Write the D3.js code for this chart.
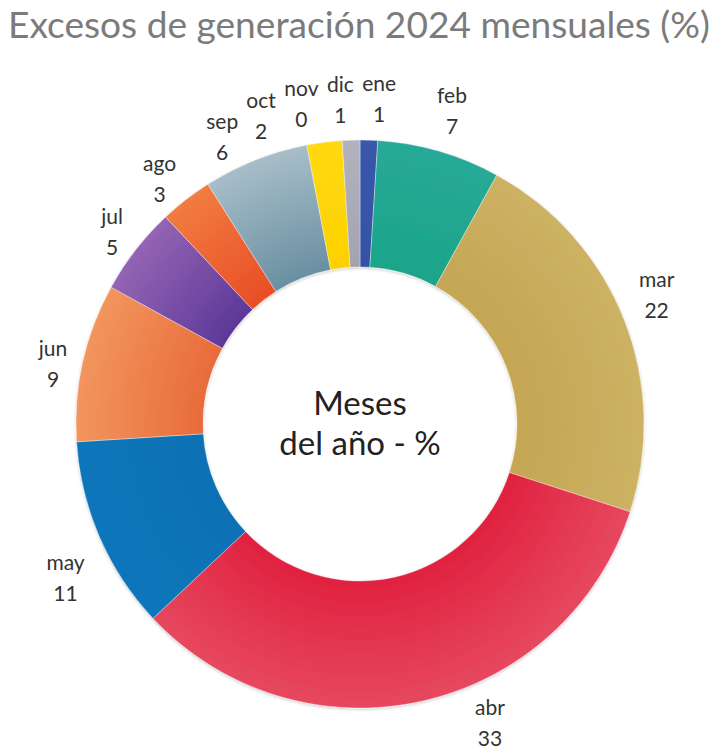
<!DOCTYPE html>
<html>
<head>
<meta charset="utf-8">
<script src="https://cdn.jsdelivr.net/npm/d3@7"></script>
<style>
  body { margin: 0; background: #fff; }
  svg { display: block; }
</style>
</head>
<body>
<svg id="chart" width="719" height="750"></svg>
<script>
// Monthly share of 2024 generation surplus (%)
const months = ["ene", "feb", "mar", "abr", "may", "jun", "jul", "ago", "sep", "oct", "nov", "dic"];
const shares = [1, 7, 22, 33, 11, 9, 5, 3, 6, 2, 0, 1];
const innerColors = ["#3452a4", "#1aa58a", "#c4a653", "#e0223f", "#0a70b4", "#e86c3a", "#5c3898", "#e84e26", "#6a8fa2", "#fdd100", "#cccccc", "#a2a3ad"];
const outerColors = ["#3a58aa", "#28a996", "#cdb264", "#e6485f", "#0e76ba", "#f2955e", "#9464b4", "#f27c40", "#a7bec8", "#ffd910", "#cccccc", "#b2b3bc"];
const title = "Excesos de generación 2024 mensuales (%)";
const centerLines = ["Meses", "del año - %"];

const width = 719, height = 750;
const cx = 360, cy = 424;
const outerR = 284, innerR = 157;
const font = "Lato, 'Open Sans', sans-serif";

const svg = d3.select("#chart");
const defs = svg.append("defs");

const shadow = defs.append("filter").attr("id", "ringShadow")
  .attr("x", "-10%").attr("y", "-10%").attr("width", "120%").attr("height", "120%");
shadow.append("feDropShadow").attr("dx", 0).attr("dy", 1.2)
  .attr("stdDeviation", 1.4).attr("flood-color", "#000").attr("flood-opacity", 0.22);

// Title, sized to span the page width
const titleText = svg.append("text")
  .attr("x", 8).attr("y", 38)
  .attr("font-family", font)
  .attr("font-size", 32)
  .attr("fill", "#7b7b7b")
  .text(title);
const tw = titleText.node().getComputedTextLength();
titleText.attr("font-size", 32 * 702 / tw);

const data = months.map((m, i) => ({ month: m, value: shares[i], i }));

const pie = d3.pie().sort(null).value(d => d.value).startAngle(0).endAngle(2 * Math.PI);
const arcs = pie(data);
const arc = d3.arc().innerRadius(innerR).outerRadius(outerR);

// Radial gradients: each slice deepens toward the hole
arcs.forEach(a => {
  const g = defs.append("radialGradient")
    .attr("id", "grad" + a.data.i)
    .attr("gradientUnits", "userSpaceOnUse")
    .attr("cx", 0).attr("cy", 0).attr("r", outerR);
  g.append("stop").attr("offset", innerR / outerR).attr("stop-color", innerColors[a.data.i]);
  g.append("stop").attr("offset", 1).attr("stop-color", outerColors[a.data.i]);
});

const ring = svg.append("g")
  .attr("transform", `translate(${cx},${cy})`)
  .attr("filter", "url(#ringShadow)");

ring.selectAll("path")
  .data(arcs.filter(a => a.data.value > 0))
  .join("path")
  .attr("d", arc)
  .attr("fill", a => `url(#grad${a.data.i})`)
  .attr("stroke", "#ffffff")
  .attr("stroke-opacity", 0.45)
  .attr("stroke-width", 0.8);

// Center caption
const caption = svg.append("text")
  .attr("text-anchor", "middle")
  .attr("font-family", font).attr("font-size", 33).attr("fill", "#222");
caption.append("tspan").attr("x", cx).attr("y", 415).text(centerLines[0]);
caption.append("tspan").attr("x", cx).attr("y", 455).text(centerLines[1]);

// Outside labels: month name over value
const labelSize = 21;
const halfH = 24;
const anchorR = outerR + 16;
const leftDrop = 17;
const labelG = svg.append("g");
const labels = arcs.map(a => {
  const g = labelG.append("g");
  const t1 = g.append("text").attr("text-anchor", "middle")
    .attr("font-family", font).attr("font-size", labelSize).attr("fill", "#333")
    .attr("y", -9).text(a.data.month);
  const t2 = g.append("text").attr("text-anchor", "middle")
    .attr("font-family", font).attr("font-size", labelSize).attr("fill", "#333")
    .attr("y", 22).text(d3.format("d")(a.data.value));
  const w = Math.max(t1.node().getComputedTextLength(), t2.node().getComputedTextLength());
  const mid = (a.startAngle + a.endAngle) / 2;
  return { g, angle: mid, halfW: w / 2 };
});

const clamp1 = v => Math.max(-1, Math.min(1, v));
const clamp01 = v => Math.max(0, Math.min(1, v));
// Box centre for a label whose inner edge touches the anchor circle at the given angle;
// labels on the left-hand side hang a little lower
function boxAt(l, ang) {
  const s = Math.sin(ang), c = Math.cos(ang);
  const drop = leftDrop * clamp01((-s - 0.25) / 0.25);
  return {
    x: cx + anchorR * s + l.halfW * clamp1(2 * s),
    y: cy - anchorR * c - halfH * clamp1(2 * c) + drop
  };
}

const yMax = height - 26, yMin = 70;
function place(l) {
  let p = boxAt(l, l.angle);
  // slide labels that would leave the page back round the ring
  let guard = 0;
  while ((p.y > yMax || p.y < yMin) && guard++ < 400) {
    const dir = Math.sin(l.angle) >= 0 ? -1 : 1;
    l.angle += (p.y > yMax ? dir : -dir) * 0.005;
    p = boxAt(l, l.angle);
  }
  l.x = p.x; l.y = p.y;
}

// Relax crowded neighbours apart, favouring the counter-clockwise side
const pad = 8;
for (let iter = 0; iter < 600; iter++) {
  labels.forEach(place);
  let moved = false;
  const sorted = labels.slice().sort((a, b) => a.angle - b.angle);
  for (let k = 0; k < sorted.length; k++) {
    const a = sorted[k], b = sorted[(k + 1) % sorted.length];
    const ox = (a.halfW + b.halfW + pad) - Math.abs(a.x - b.x);
    const oy = 2 * halfH - Math.abs(a.y - b.y);
    if (ox > 0 && oy > 0) {
      a.angle -= 0.0016;
      b.angle += 0.0005;
      moved = true;
    }
  }
  if (!moved) break;
}
labels.forEach(place);
labels.forEach(l => l.g.attr("transform", `translate(${l.x},${l.y})`));
</script>
</body>
</html>
